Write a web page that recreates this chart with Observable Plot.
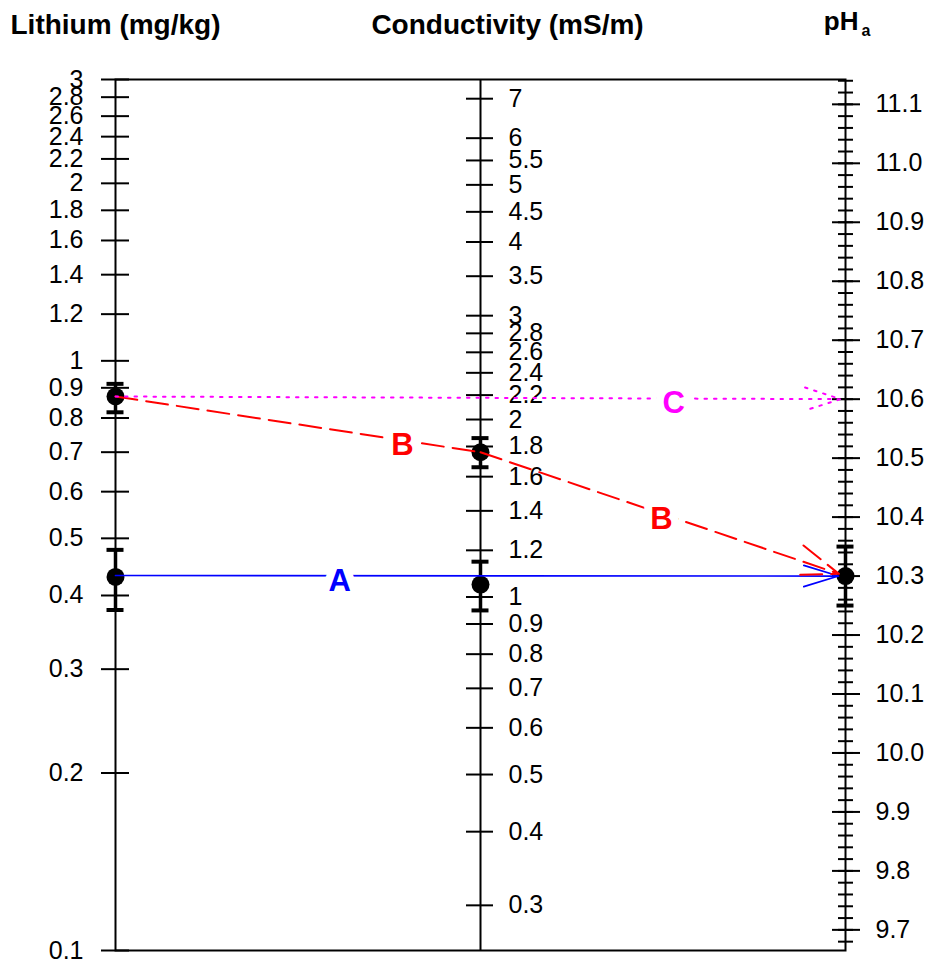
<!DOCTYPE html>
<html>
<head>
<meta charset="utf-8">
<script src="https://cdn.jsdelivr.net/npm/d3@7"></script>
<script src="https://cdn.jsdelivr.net/npm/@observablehq/plot@0.6"></script>
<style>
  body { margin: 0; background: #fff; }
  #chart svg { display: block; }
</style>
</head>
<body>
<div id="chart"></div>
<script>
// ---- Axis titles -------------------------------------------------------
const axisTitles = ["Lithium (mg/kg)", "Conductivity (mS/m)", "pH"];

// ---- Tick values -------------------------------------------------------
const lithiumTicks = [0.1, 0.2, 0.3, 0.4, 0.5, 0.6, 0.7, 0.8, 0.9, 1, 1.2, 1.4, 1.6, 1.8, 2, 2.2, 2.4, 2.6, 2.8, 3];
const conductivityTicks = [0.3, 0.4, 0.5, 0.6, 0.7, 0.8, 0.9, 1, 1.2, 1.4, 1.6, 1.8, 2, 2.2, 2.4, 2.6, 2.8, 3, 3.5, 4, 4.5, 5, 5.5, 6, 7];
const phMajorTicks = [9.7, 9.8, 9.9, 10.0, 10.1, 10.2, 10.3, 10.4, 10.5, 10.6, 10.7, 10.8, 10.9, 11.0, 11.1];
const phMinorTicks = d3.range(968, 1115, 2).map(d => d / 100); // every 0.02 pH

// ---- Nomogram scale relations (middle & right scales vs lithium scale) --
const COND_PER_LITHIUM = 2.515;   // conductivity scale = 2.515 × lithium scale
const PH_AT_LITHIUM_ONE = 10.665; // pH scale: pH = log10(Li) + 10.665

// ---- Measurements with error bars -------------------------------------
const pointAxis  = [0, 0, 1, 1, 2];
const pointValue = [0.87, 0.43, 1.76, 1.05, 10.30];
const pointLow   = [0.818, 0.378, 1.66, 0.949, 10.25];
const pointHigh  = [0.914, 0.478, 1.86, 1.148, 10.35];

// ---- Construction lines: [axis, value] --------------------------------
const lineA = [[0, 0.4325], [2, 10.30]];
const lineB = [[0, 0.87], [1, 1.76], [2, 10.30]];
const lineC = [[0, 0.87], [2, 10.60]];

// labels: letter, line, position along the x (axis units), colour
const labelText  = ["A", "B", "B", "C"];
const labelLine  = [lineA, lineB, lineB, lineC];
const labelAt    = [0.614, 0.786, 1.496, 1.529];
const labelColor = ["#0000ff", "#ff0000", "#ff0000", "#ff00ff"];

// -----------------------------------------------------------------------
const pos = (axis, v) => axis === 0 ? v : axis === 1 ? v / COND_PER_LITHIUM : Math.pow(10, v - PH_AT_LITHIUM_ONE);

const points = pointAxis.map((a, i) => ({
  x: a, y: pos(a, pointValue[i]), lo: pos(a, pointLow[i]), hi: pos(a, pointHigh[i])
}));
const caps = points.flatMap(p => [{x: p.x, y: p.lo}, {x: p.x, y: p.hi}]);

const toXY = line => line.map(([a, v]) => ({x: a, y: pos(a, v)}));
const A = toXY(lineA), B = toXY(lineB), C = toXY(lineC);

function along(line, t) {
  const pts = toXY(line);
  for (let i = 0; i < pts.length - 1; i++) {
    const p0 = pts[i], p1 = pts[i + 1];
    if (t >= p0.x && t <= p1.x) {
      const f = (t - p0.x) / (p1.x - p0.x);
      return Math.pow(10, Math.log10(p0.y) + f * (Math.log10(p1.y) - Math.log10(p0.y)));
    }
  }
  return pts[pts.length - 1].y;
}
const labels = labelText.map((t, i) => ({text: t, x: labelAt[i], y: along(labelLine[i], labelAt[i]), color: labelColor[i]}));

const seg = (p, q) => ({x1: p.x, y1: p.y, x2: q.x, y2: q.y});

const FONT = "'Liberation Sans', Arial, Helvetica, sans-serif";
const TICK_FONT = 25;

const chart = Plot.plot({
  width: 933,
  height: 966,
  marginTop: 79,
  marginBottom: 16,
  marginLeft: 115,
  marginRight: 88,
  style: {fontFamily: FONT, background: "#fff", color: "#000", overflow: "visible"},
  x: {domain: [0, 2], axis: null},
  y: {type: "log", domain: [0.1, 3], axis: null},
  marks: [
    // axes and frame
    Plot.frame({stroke: "#000", strokeWidth: 2}),
    Plot.ruleX([1], {stroke: "#000", strokeWidth: 2}),

    // lithium axis ticks
    Plot.ruleY(lithiumTicks, {y: d => pos(0, d), x1: 0, x2: 0, insetLeft: -14, insetRight: -14, stroke: "#000", strokeWidth: 2}),
    Plot.text(lithiumTicks, {x: 0, y: d => pos(0, d), text: d => String(d), textAnchor: "end", dx: -32, fontSize: TICK_FONT, fill: "#000"}),

    // conductivity axis ticks
    Plot.ruleY(conductivityTicks, {y: d => pos(1, d), x1: 1, x2: 1, insetLeft: -14, insetRight: -13, stroke: "#000", strokeWidth: 2}),
    Plot.text(conductivityTicks, {x: 1, y: d => pos(1, d), text: d => String(d), textAnchor: "start", dx: 28, fontSize: TICK_FONT, fill: "#000"}),

    // pH axis ticks
    Plot.ruleY(phMinorTicks, {y: d => pos(2, d), x1: 2, x2: 2, insetLeft: -7, insetRight: -8, stroke: "#000", strokeWidth: 2}),
    Plot.ruleY(phMajorTicks, {y: d => pos(2, d), x1: 2, x2: 2, insetLeft: -13, insetRight: -15, stroke: "#000", strokeWidth: 2}),
    Plot.text(phMajorTicks, {x: 2, y: d => pos(2, d), text: d => d.toFixed(1), textAnchor: "start", dx: 30, fontSize: TICK_FONT, fill: "#000"}),

    // titles
    Plot.text([0], {x: 0, frameAnchor: "top", dy: -65, text: () => axisTitles[0], fontSize: 28, fontWeight: "bold", fill: "#000"}),
    Plot.text([1], {x: 1, frameAnchor: "top", dy: -65, dx: 27, text: () => axisTitles[1], fontSize: 28, fontWeight: "bold", fill: "#000"}),
    Plot.text([2], {x: 2, frameAnchor: "top", dy: -68, dx: 13, text: () => axisTitles[2], textAnchor: "end", fontSize: 26, fontWeight: "bold", fill: "#000"}),
    Plot.text([2], {x: 2, frameAnchor: "top", dy: -55, dx: 16, text: () => "a", textAnchor: "start", fontSize: 16, fontWeight: "bold", fill: "#000"}),

    // error bars and points
    Plot.ruleX(points, {x: "x", y1: "lo", y2: "hi", stroke: "#000", strokeWidth: 3.5}),
    Plot.ruleY(caps, {y: "y", x1: "x", x2: "x", insetLeft: -8.5, insetRight: -8.5, stroke: "#000", strokeWidth: 4}),
    Plot.dot(points, {x: "x", y: "y", r: 9, fill: "#000", stroke: "none"}),

    // construction line A (blue, solid)
    Plot.arrow([seg(A[0], A[1])], {x1: "x1", y1: "y1", x2: "x2", y2: "y2", stroke: "#0000ff", strokeWidth: 1.7, headLength: 32, headAngle: 34, insetEnd: 7}),

    // construction line B (red, dashed)
    Plot.line(B.slice(0, 2), {x: "x", y: "y", stroke: "#ff0000", strokeWidth: 2, strokeDasharray: "22,9"}),
    Plot.arrow([seg(B[1], B[2])], {x1: "x1", y1: "y1", x2: "x2", y2: "y2", stroke: "#ff0000", strokeWidth: 2, strokeDasharray: "22,9", headLength: 34, headAngle: 40, insetEnd: 7}),

    // construction line C (magenta, dotted)
    Plot.arrow([seg(C[0], C[1])], {x1: "x1", y1: "y1", x2: "x2", y2: "y2", stroke: "#ff00ff", strokeWidth: 2, strokeDasharray: "2.5,7", headLength: 28, headAngle: 36, insetEnd: 5}),

    // line labels
    Plot.text(labels, {x: "x", y: "y", text: "text", fill: "color", stroke: "#fff", strokeWidth: 16, fontSize: 31, fontWeight: "bold", dy: 5})
  ]
});

document.getElementById("chart").appendChild(chart);
</script>
</body>
</html>
